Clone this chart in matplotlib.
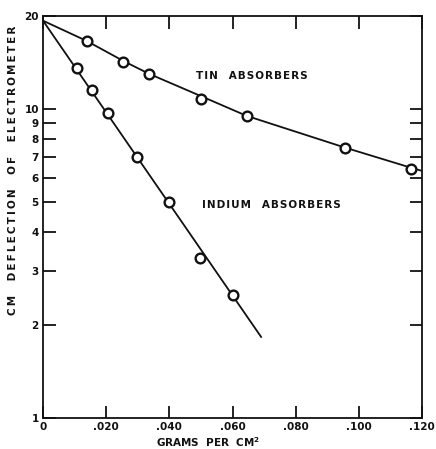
import matplotlib
matplotlib.use('Agg')
import matplotlib.pyplot as plt
from matplotlib.ticker import FixedLocator, NullLocator

# measured points (grams per cm^2, cm deflection)
tin_x = [0.0138, 0.0254, 0.0335, 0.0500, 0.0644, 0.0955, 0.1165]
tin_y = [16.6, 14.2, 13.0, 10.8, 9.5, 7.5, 6.4]
indium_x = [0.0108, 0.0155, 0.0205, 0.0297, 0.0400, 0.0497, 0.0602]
indium_y = [13.6, 11.5, 9.7, 7.0, 5.0, 3.3, 2.5]

# drawn curves through the points
tin_line_x = [0.0, 0.0138, 0.0254, 0.0335, 0.0500, 0.0644, 0.0955, 0.1165, 0.1200]
tin_line_y = [19.3, 16.6, 14.3, 13.0, 11.0, 9.5, 7.5, 6.45, 6.3]
indium_line_x = [0.0, 0.069]
indium_line_y = [19.3, 1.83]

x_ticks = [0, 0.02, 0.04, 0.06, 0.08, 0.10, 0.12]
x_labels = ['0', '.020', '.040', '.060', '.080', '.100', '.120']
y_ticks = [1, 2, 3, 4, 5, 6, 7, 8, 9, 10, 20]
y_labels = ['1', '2', '3', '4', '5', '6', '7', '8', '9', '10', '20']

ink = '#111111'
plt.rcParams['font.family'] = 'DejaVu Sans'
plt.rcParams['font.weight'] = 'bold'


def spaced(s, sep='\u200a'):
    return sep.join(s)


fig = plt.figure(figsize=(4.36, 4.49), dpi=100)
ax = fig.add_axes([0.0986, 0.069, 0.870, 0.8956])

ax.plot(tin_line_x, tin_line_y, color=ink, lw=1.3, zorder=2)
ax.plot(indium_line_x, indium_line_y, color=ink, lw=1.3, zorder=2)
ax.plot(tin_x, tin_y, 'o', ms=7, mfc='white', mec=ink, mew=1.7, zorder=3)
ax.plot(indium_x, indium_y, 'o', ms=7, mfc='white', mec=ink, mew=1.7, zorder=3)

ax.set_yscale('log')
ax.set_xlim(0, 0.12)
ax.set_ylim(1, 20)

ax.xaxis.set_major_locator(FixedLocator(x_ticks))
ax.set_xticklabels(x_labels)
ax.yaxis.set_major_locator(FixedLocator(y_ticks))
ax.yaxis.set_minor_locator(NullLocator())
ax.set_yticklabels(y_labels)

ax.tick_params(axis='both', direction='in', length=9, width=1.3, color=ink,
               labelsize=7.5, labelcolor=ink, top=True, right=True, pad=3)
for lab in ax.get_xticklabels() + ax.get_yticklabels():
    lab.set_fontweight('bold')
for sp in ax.spines.values():
    sp.set_linewidth(1.3)
    sp.set_color(ink)

ax.text(0.0485, 12.8, spaced('TIN') + '   ' + spaced('ABSORBERS'),
        fontsize=7.5, fontweight='bold', color=ink, va='center')
ax.text(0.0503, 4.9, spaced('INDIUM') + '   ' + spaced('ABSORBERS'),
        fontsize=7.5, fontweight='bold', color=ink, va='center')

fig.text(208 / 436, 1 - 442 / 449,
         'GRAMS  PER  CM$^{\\mathbf{2}}$',
         fontsize=7.5, fontweight='bold', color=ink, ha='center', va='center')
fig.text(13 / 436, 1 - 170 / 449,
         spaced('CM', '\u2009') + '    ' + spaced('DEFLECTION', '\u2009') + '    '
         + spaced('OF', '\u2009') + '    ' + spaced('ELECTROMETER', '\u2009'),
         fontsize=7.5, fontweight='bold', color=ink, rotation=90, ha='center', va='center')

fig.savefig('out.png', dpi=100, facecolor='white')
